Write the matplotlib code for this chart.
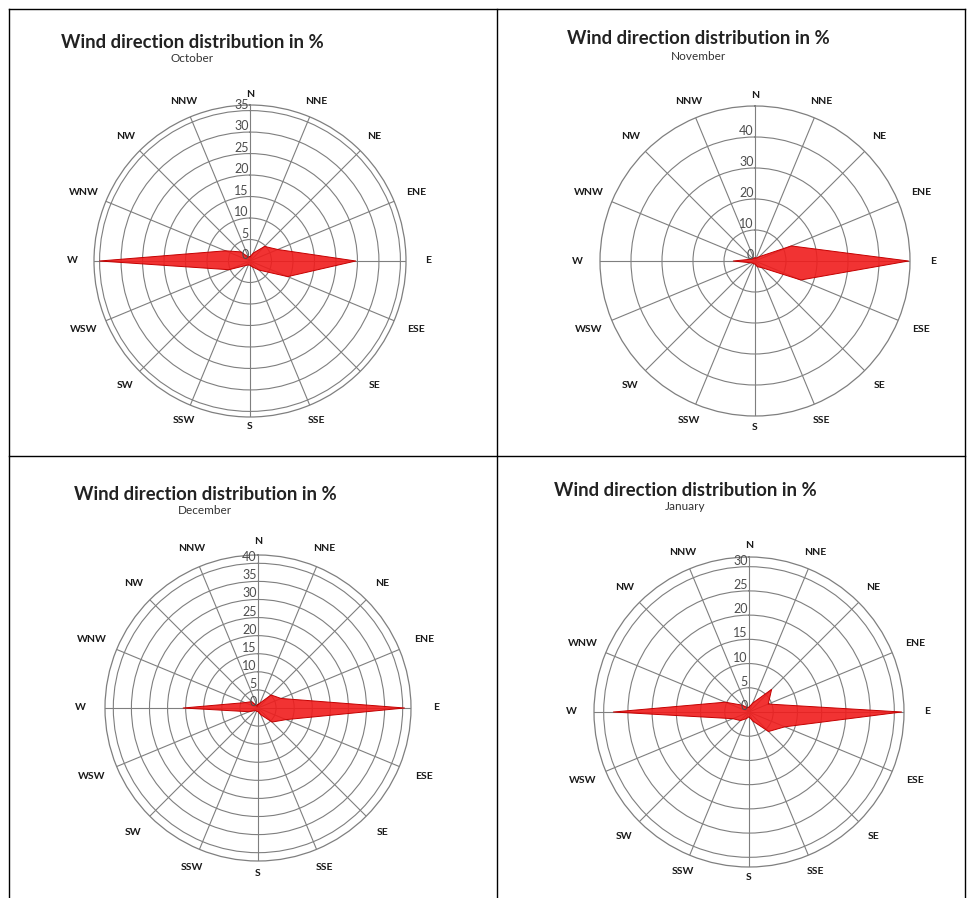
import matplotlib

matplotlib.use("Agg")
import matplotlib.pyplot as plt  # noqa: E402
import numpy as np  # noqa: E402
from matplotlib.lines import Line2D  # noqa: E402

W_PX, H_PX = 968, 898

directions = ["N", "NNE", "NE", "ENE", "E", "ESE", "SE", "SSE",
              "S", "SSW", "SW", "WSW", "W", "WNW", "NW", "NNW"]

# % per direction
october = [1, 2, 4.8, 7, 24.6, 9.5, 3, 1.5, 1, 1, 1.5, 5.3, 35, 6.2, 3, 1]
november = [1, 1, 2, 12.7, 49.5, 16, 3, 2, 1, 1, 1, 1.5, 7, 1.5, 1, 1]
december = [1, 1.5, 5.1, 6.9, 40.5, 8.4, 5.5, 2, 1, 1, 1, 2.7, 20.7, 3.9, 2.5, 0.5]
january = [1, 2, 6.6, 4.3, 31.5, 8, 5.7, 2, 1, 1.5, 2.5, 3.6, 28, 5.3, 2, 1]

oct_ticks = [0, 5, 10, 15, 20, 25, 30, 35]
nov_ticks = [0, 10, 20, 30, 40]
dec_ticks = [0, 5, 10, 15, 20, 25, 30, 35, 40]
jan_ticks = [0, 5, 10, 15, 20, 25, 30]

TITLE = "Wind direction distribution in %"
months = ["October", "November", "December", "January"]

RED = "#f01d1d"
GRID = "#7f7f7f"
FONT = ["Lato", "DejaVu Sans"]

# label distance (px from centre) per direction
LABEL_PX = {0: 166, 1: 173, 2: 176, 3: 180, 4: 178}


def fx(x):
    return x / W_PX


def fy(y):
    return 1 - y / H_PX


def rose(fig, cx, cy, r_px, r_max, ticks, vals, title, month, tx, ty, sy):
    ax = fig.add_axes([fx(cx - r_px), fy(cy + r_px), 2 * r_px / W_PX, 2 * r_px / H_PX],
                      projection="polar")
    ax.set_theta_zero_location("N")
    ax.set_theta_direction(-1)
    ax.set_ylim(0, r_max)
    theta = np.deg2rad(np.arange(len(directions)) * 22.5)
    ax.set_xticks(theta)
    ax.set_xticklabels([])
    ax.set_yticks(ticks[1:])
    ax.set_yticklabels([])
    ax.grid(True, color=GRID, lw=0.8)
    ax.spines["polar"].set_color(GRID)
    ax.spines["polar"].set_linewidth(0.9)
    ax.tick_params(length=0)

    t = np.append(theta, theta[0])
    v = np.append(vals, vals[0])
    ax.fill(t, v, color=RED, alpha=0.9, lw=0, zorder=3)
    ax.plot(t, v, color="#c40000", lw=0.7, zorder=4)

    for v_ in ticks:
        ax.annotate(str(v_), xy=(0, v_), xytext=(-1, 0), textcoords="offset points",
                    ha="right", va="bottom", fontsize=9, color="#4d4d4d",
                    family=FONT, zorder=5)

    for i, d in enumerate(directions):
        k = min(i % 8, 8 - i % 8)
        r = LABEL_PX[k] / r_px * r_max
        ax.text(theta[i], r, d, ha="center", va="center", fontsize=7.5,
                color="#1a1a1a", family=FONT, fontweight="bold", clip_on=False)

    fig.text(fx(tx), fy(ty), title, ha="center", va="center", fontsize=13.3,
             color="#222222", family=FONT, fontweight="bold")
    fig.text(fx(tx), fy(sy), month, ha="center", va="center", fontsize=8.5,
             color="#333333", family=FONT)


fig = plt.figure(figsize=(W_PX / 100, H_PX / 100), dpi=100)

rose(fig, 250, 261, 156, 36.3, oct_ticks, october, TITLE, months[0], 192, 43, 59)
rose(fig, 755, 261, 155, 50, nov_ticks, november, TITLE, months[1], 698, 39, 56)
rose(fig, 258, 708, 153, 42.3, dec_ticks, december, TITLE, months[2], 205, 495, 511)
rose(fig, 749, 712, 155, 32, jan_ticks, january, TITLE, months[3], 685, 491, 506)

# panel frame
for x0, y0, x1, y1 in [(9, 9, 965, 9), (9, 9, 9, 898), (965, 9, 965, 898),
                       (497, 9, 497, 898), (9, 456, 965, 456)]:
    fig.add_artist(Line2D([fx(x0), fx(x1)], [fy(y0), fy(y1)], color="black", lw=1.0))

fig.savefig("out.png", dpi=100)
